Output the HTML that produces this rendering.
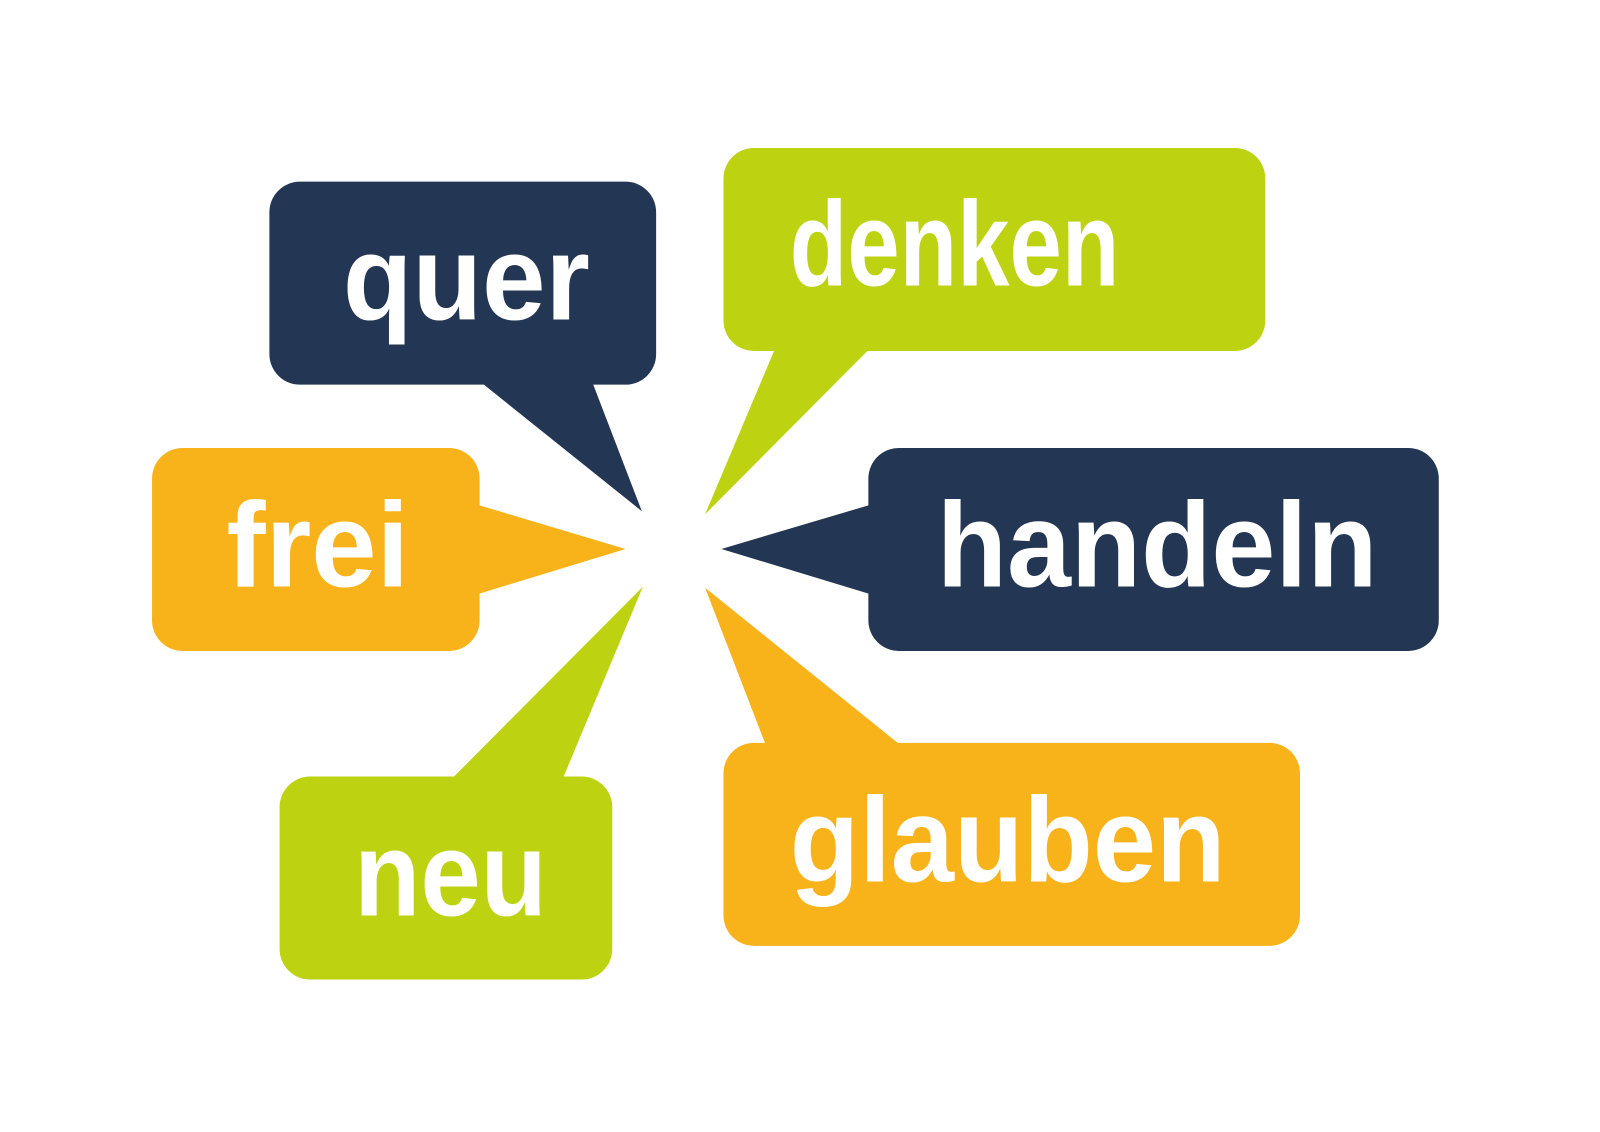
<!DOCTYPE html>
<html><head><meta charset="utf-8"><style>html,body{margin:0;padding:0;background:#fff}svg{display:block}text{font-family:"Liberation Sans",sans-serif;font-weight:bold;fill:#fff;font-size:118px}</style></head>
<body>
<svg width="1600" height="1132" viewBox="0 0 1568 1109.4" preserveAspectRatio="none" xmlns="http://www.w3.org/2000/svg">
<g fill="#233654">
<rect x="264" y="178" width="379" height="199" rx="30"/>
<polygon points="473,376 581,376 629,501"/>
<rect x="851" y="439" width="559" height="199" rx="30"/>
<polygon points="852,495 852,582 707,538"/>
</g>
<g fill="#bdd211">
<rect x="709" y="145" width="531" height="199" rx="30"/>
<polygon points="759,343 851,343 691,504"/>
<rect x="274" y="761" width="326" height="199" rx="30"/>
<polygon points="444,762 552,762 630,575"/>
</g>
<g fill="#f8b21a">
<rect x="149" y="439" width="321" height="199" rx="30"/>
<polygon points="469,495 469,582 613,538"/>
<rect x="709" y="728" width="565" height="199" rx="30"/>
<polygon points="750,729 881,729 691,576"/>
</g>
<text x="336" y="313" textLength="242" lengthAdjust="spacingAndGlyphs">quer</text>
<text x="774" y="280" textLength="323" lengthAdjust="spacingAndGlyphs">denken</text>
<text x="222" y="575" textLength="179" lengthAdjust="spacingAndGlyphs">frei</text>
<text x="918" y="575" textLength="432" lengthAdjust="spacingAndGlyphs">handeln</text>
<text x="347" y="897" textLength="189" lengthAdjust="spacingAndGlyphs">neu</text>
<text x="774" y="864" textLength="427" lengthAdjust="spacingAndGlyphs">glauben</text>
</svg>
</body></html>
